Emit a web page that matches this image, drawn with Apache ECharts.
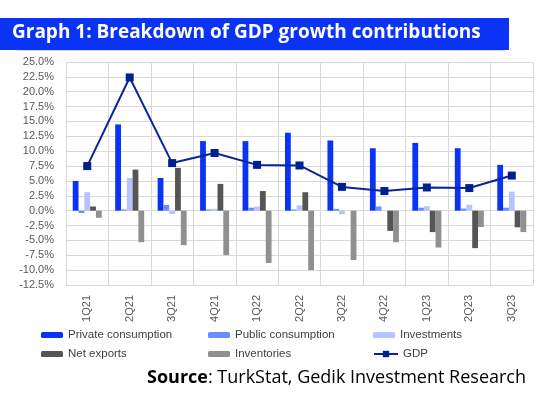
<!DOCTYPE html>
<html><head><meta charset="utf-8">
<script src="https://cdn.jsdelivr.net/npm/echarts@6/dist/echarts.min.js"></script>
<style>html,body{margin:0;padding:0;background:#fff}#c{width:558px;height:393px}</style>
</head><body><div id="c"></div>
<script>
const categories = ['1Q21','2Q21','3Q21','4Q21','1Q22','2Q22','3Q22','4Q22','1Q23','2Q23','3Q23'];
const privateConsumption = [5.0, 14.5, 5.5, 11.7, 11.7, 13.1, 11.8, 10.5, 11.4, 10.5, 7.7];
const publicConsumption = [-0.4, 0.2, 0.95, 0.2, 0.5, 0.2, 0.3, 0.7, 0.5, 0.35, 0.5];
const investments = [3.1, 5.5, -0.55, 0.3, 0.7, 0.9, -0.6, 0.0, 0.75, 1.0, 3.2];
const netExports = [0.7, 6.9, 7.2, 4.5, 3.3, 3.1, 0.0, -3.4, -3.6, -6.3, -2.8];
const inventories = [-1.2, -5.3, -5.8, -7.45, -8.8, -10.0, -8.3, -5.3, -6.2, -2.75, -3.6];
const gdp = [7.5, 22.4, 8.0, 9.7, 7.7, 7.6, 4.0, 3.3, 3.9, 3.8, 5.9];
const yTicks = {min: -12.5, max: 25, interval: 2.5};

const chart = echarts.init(document.getElementById('c'), null, {renderer: 'canvas'});
const bw = 5.8;
function bar(name, data, color) {
  return {name, type: 'bar', data, barWidth: bw, barGap: '0%', itemStyle: {color}, z: 2};
}
const legendText = {fontFamily: 'Liberation Sans', fontSize: 11.5, color: '#404040'};
function leg(name, left, top, extra) {
  return Object.assign({data: [name], left, top, itemWidth: 22, itemHeight: 6, itemGap: 0,
    textStyle: legendText, padding: 0, selectedMode: false}, extra || {});
}
chart.setOption({
  animation: false,
  grid: {left: 66, right: 25, top: 62, bottom: 108, containLabel: false},
  xAxis: {
    type: 'category', data: categories,
    axisLine: {show: false, onZero: false},
    axisTick: {show: false},
    splitLine: {show: true, lineStyle: {color: '#d9d9d9', width: 1}},
    axisLabel: {rotate: 90, margin: 10, fontFamily: 'Liberation Sans', fontSize: 11, color: '#595959'}
  },
  yAxis: {
    type: 'value', min: yTicks.min, max: yTicks.max, interval: yTicks.interval,
    axisLine: {show: false}, axisTick: {show: false},
    splitLine: {lineStyle: {color: '#d9d9d9', width: 1}},
    axisLabel: {formatter: v => v.toFixed(1) + '%', fontFamily: 'Liberation Sans', fontSize: 11, color: '#595959', margin: 12}
  },
  legend: [
    leg('Private consumption', 41, 329),
    leg('Public consumption', 208, 329),
    leg('Investments', 373, 329),
    leg('Net exports', 41, 348),
    leg('Inventories', 208, 348),
    leg('GDP', 373, 348, {itemWidth: 24, itemHeight: 8})
  ],
  graphic: [
    {type: 'rect', shape: {x: 0, y: 18, width: 509, height: 32}, style: {fill: '#0a33f5'}},
    {type: 'line', shape: {x1: 17, y1: 50.5, x2: 505, y2: 50.5}, style: {stroke: '#d9d9d9', lineWidth: 1}},
    {type: 'text', left: 12, top: 23, style: {text: 'Graph 1: Breakdown of GDP growth contributions', fill: '#fff',
      font: 'bold 19px "Open Sans"'}},
    {type: 'text', left: 147, top: 369, style: {
      text: '{b|Source}: TurkStat, Gedik Investment Research',
      rich: {b: {fontWeight: 'bold', fontSize: 18, fontFamily: 'Open Sans', fill: '#000'}},
      fontSize: 18, fontFamily: 'Open Sans', fill: '#000'}}
  ],
  series: [
    bar('Private consumption', privateConsumption, '#0a33f5'),
    bar('Public consumption', publicConsumption, '#6c8cff'),
    bar('Investments', investments, '#b6c5ff'),
    bar('Net exports', netExports, '#555555'),
    bar('Inventories', inventories, '#909090'),
    {name: 'GDP', type: 'line', data: gdp, z: 5,
      lineStyle: {color: '#0b2594', width: 2}, itemStyle: {color: '#00208f'},
      symbol: 'rect', symbolSize: 8}
  ]
});
</script></body></html>
